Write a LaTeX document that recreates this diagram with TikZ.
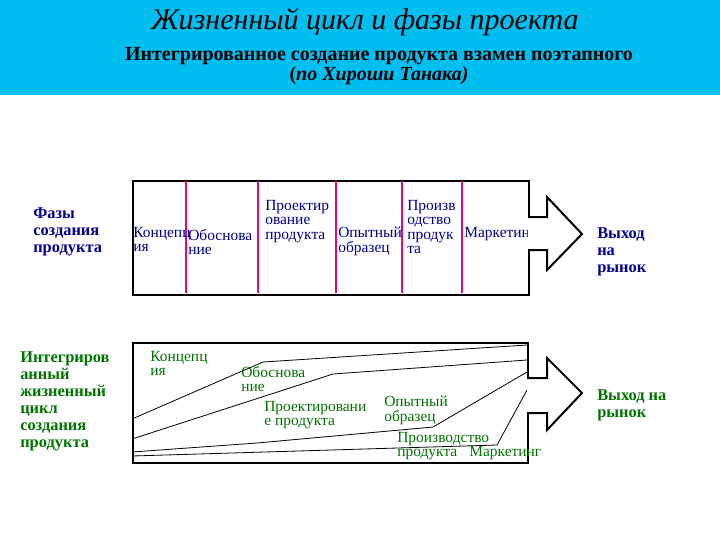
\documentclass[tikz,border=0pt]{standalone}
\usepackage{fontspec}
\setmainfont{Liberation Serif}
\definecolor{hdr}{RGB}{0,190,240}
\begin{document}
\begin{tikzpicture}[x=0.75pt,y=-0.75pt,
  lbl/.style={font=\fontsize{11.6}{10.8}\selectfont,align=left,inner sep=0pt,anchor=north west},
  blu/.style={lbl,text=blue!55!black},
  grn/.style={lbl,text=green!45!black},
  sideb/.style={font=\bfseries\fontsize{12.3}{12.8}\selectfont,align=left,inner sep=0pt,anchor=north west},
  sep/.style={draw=magenta!85!red,line width=2pt},
  ln/.style={draw=black,line width=0.6pt}]
\useasboundingbox (0,0) rectangle (720,540);
\fill[hdr] (0,0) rectangle (720,95);
\node (title) at (365,22) {\itshape\fontsize{22.5}{26}\selectfont Жизненный цикл и фазы проекта};
\node[align=center] (sub) at (379,66) {\bfseries\fontsize{15}{17.5}\selectfont Интегрированное создание продукта взамен поэтапного\\\bfseries\fontsize{15}{17.5}\selectfont(\itshape по Хироши Танака)};
% top
\node[draw,line width=1.5pt,minimum width=396*0.75pt,minimum height=114*0.75pt,anchor=north west,inner sep=0] (tb) at (132,180) {};
\foreach \x in {186,258,336,402,462} \draw[sep] (\x,181) -- (\x,293);
\node[blu] (c1) at (133,227) {Концепц\\ия};
\node[blu] (c2) at (188,229) {Обоснова\\ние};
\node[blu] (c3) at (265,200) {Проектир\\ование\\продукта};
\node[blu] (c4) at (338,227) {Опытный\\образец};
\node[blu] (c5) at (407,200) {Произв\\одство\\продук\\та};
\node[blu] (c6) at (464,227) {Маркетинг};
\draw[line width=1.5pt,fill=white] (528,217) -- (547,217) -- (547,197) -- (582,234) -- (547,270) -- (547,250) -- (528,250);
\node[sideb,text=blue!55!black] (o1) at (597,227) {Выход\\на\\рынок};
\node[sideb,text=blue!55!black] (f1) at (33,207) {Фазы\\создания\\продукта};
% bottom
\node[draw,line width=1.5pt,minimum width=395*0.75pt,minimum height=120*0.75pt,anchor=north west,inner sep=0] (bb) at (132,342) {};
\draw[ln] (132,419) -- (263,362) -- (527,345);
\draw[ln] (470,343.5) -- (527,343.5);
\draw[ln] (132,439) -- (333,374) -- (527,360);
\draw[ln] (132,452) -- (257,443) -- (433,427) -- (527,372);
\draw[ln] (132,456) -- (497,445) -- (527,390);
\node[grn] (g1) at (150,351) {Концепц\\ия};
\node[grn] (g2) at (241,366) {Обоснова\\ние};
\node[grn] (g3) at (264,401) {Проектировани\\е продукта};
\node[grn] (g4) at (384,396) {Опытный\\образец};
\node[grn] (g5) at (397,432) {Производство\\продукта};
\node[grn] (g6) at (469,446) {Маркетинг};
\draw[line width=1.5pt,fill=white] (527,378) -- (547,378) -- (547,358) -- (582,393) -- (547,430) -- (547,413) -- (527,413);
\node[sideb,text=green!45!black] (o2) at (597,389) {Выход на\\рынок};
\node[sideb,text=green!45!black] (f2) at (20,351) {Интегриров\\анный\\жизненный\\цикл\\создания\\продукта};
\end{tikzpicture}
\end{document}
